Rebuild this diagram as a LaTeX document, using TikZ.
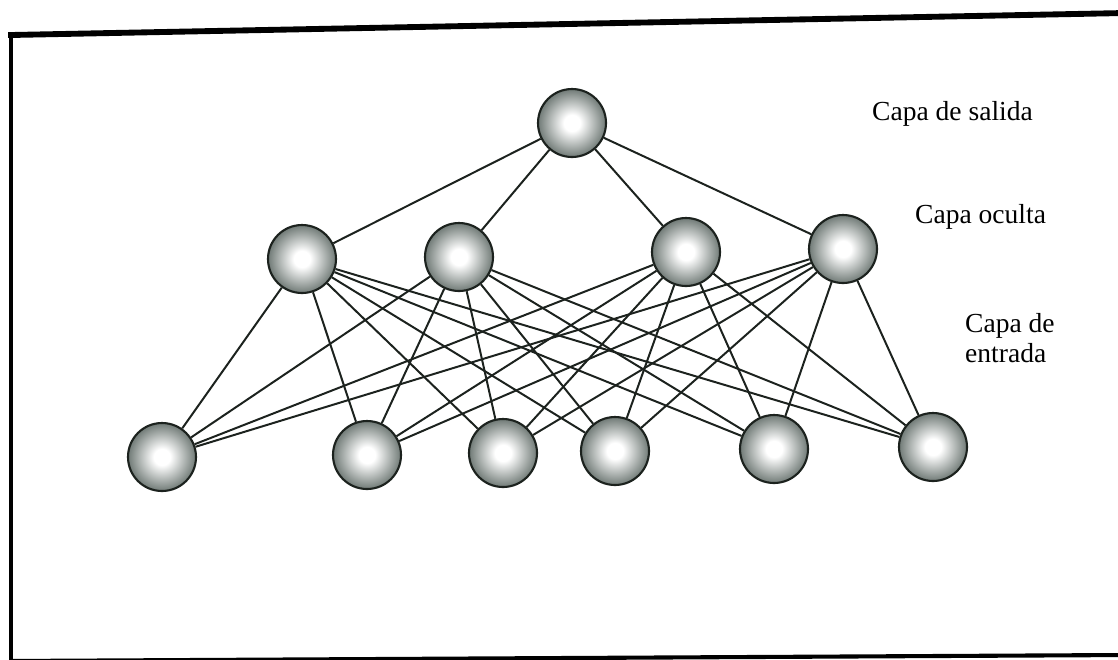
\documentclass[tikz,border=0pt]{standalone}
\usepackage{fontspec}
\setmainfont{Liberation Serif}
\definecolor{NeuronEdge}{RGB}{112,122,118}
\definecolor{NeuronLine}{RGB}{28,34,30}
\pgfdeclareradialshading{neuronball}{\pgfpoint{0bp}{0bp}}{color(0bp)=(white); color(6bp)=(white); color(25bp)=(NeuronEdge); color(50bp)=(NeuronEdge)}

\begin{document}
\begin{tikzpicture}[x=0.03cm,y=-0.03cm,neuron/.style={circle,draw=NeuronLine,line width=1.8pt,shading=neuronball,minimum size=2.04cm,inner sep=0pt},link/.style={draw=NeuronLine,line width=1.7pt},layertext/.style={font=\fontsize{23.5}{25}\selectfont,anchor=base west,align=left,inner sep=0pt}]
\useasboundingbox (0,0) rectangle (1118,659);
% marco
\coordinate (tl) at (11,35);
\coordinate (tr) at (1125,13);
\coordinate (bl) at (11,661);
\coordinate (br) at (1125,655);
\draw[line width=5pt,line cap=rect](tl)--(tr);
\draw[line width=3.5pt](tl)--(bl);
\draw[line width=3.5pt](bl)--(br);
% capas
\node[neuron](o) at (572,123){};
\node[neuron](h1) at (302,259){};
\node[neuron](h2) at (459,257){};
\node[neuron](h3) at (686,252){};
\node[neuron](h4) at (843,249){};
\node[neuron](i1) at (162,457){};
\node[neuron](i2) at (367,455){};
\node[neuron](i3) at (503,453){};
\node[neuron](i4) at (615,451){};
\node[neuron](i5) at (774,449){};
\node[neuron](i6) at (933,447){};
\foreach \h in {1,...,4}{\draw[link](o)--(h\h);
  \foreach \i in {1,...,6}{\draw[link](h\h)--(i\i);}}
\node[layertext](ts) at (872,120){Capa de salida};
\node[layertext](to) at (915,223){Capa oculta};
\node[layertext](te) at (965,362){Capa de\\entrada};
\end{tikzpicture}
\end{document}
